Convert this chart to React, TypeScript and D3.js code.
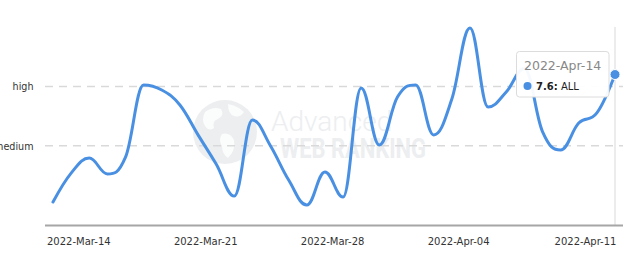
import React from 'react';
import * as d3 from 'd3';

const dates = [
  '2022-03-14', '2022-03-15', '2022-03-16', '2022-03-17', '2022-03-18', '2022-03-19', '2022-03-20', '2022-03-21',
  '2022-03-22', '2022-03-23', '2022-03-24', '2022-03-25', '2022-03-26', '2022-03-27', '2022-03-28', '2022-03-29',
  '2022-03-30', '2022-03-31', '2022-04-01', '2022-04-02', '2022-04-03', '2022-04-04', '2022-04-05', '2022-04-06',
  '2022-04-07', '2022-04-08', '2022-04-09', '2022-04-10', '2022-04-11', '2022-04-12', '2022-04-13', '2022-04-14',
];
const values = [
  1.16, 2.62, 3.38, 2.58, 3.43, 7.07, 6.82, 6.06,
  4.55, 3.08, 1.46, 5.30, 3.99, 2.27, 1.01, 2.68,
  1.41, 6.92, 4.04, 6.46, 7.07, 4.55, 6.36, 9.95,
  5.96, 6.72, 7.9, 4.72, 3.79, 5.15, 5.66, 7.6,
];
const seriesName = 'ALL';
const yTickValues = [4, 7];
const yTickLabels = ['medium', 'high'];
const xTickDates = ['2022-03-14', '2022-03-21', '2022-03-28', '2022-04-04', '2022-04-11'];
const xTickLabels = ['2022-Mar-14', '2022-Mar-21', '2022-Mar-28', '2022-Apr-04', '2022-Apr-11'];
const tooltipDate = '2022-Apr-14';

class HCSpline {
  _context: any;
  _pts: number[][] = [];
  constructor(context: any) { this._context = context; }
  areaStart() {}
  areaEnd() {}
  lineStart() { this._pts = []; }
  point(x: number, y: number) { this._pts.push([+x, +y]); }
  lineEnd() {
    const p = this._pts, n = p.length, ctx = this._context;
    if (!n) return;
    const rc: number[][] = new Array(n);
    ctx.moveTo(p[0][0], p[0][1]);
    for (let i = 1; i < n; i++) {
      const [px, py] = p[i];
      let lcx = px, lcy = py;
      if (i < n - 1) {
        const [lx, ly] = p[i - 1];
        const [nx, ny] = p[i + 1];
        const s = 1.5, den = 2.5;
        lcx = (s * px + lx) / den; lcy = (s * py + ly) / den;
        const rcx = (s * px + nx) / den; let rcy = (s * py + ny) / den;
        if (rcx !== lcx) {
          const c = ((rcy - lcy) * (rcx - px)) / (rcx - lcx) + py - rcy;
          lcy += c; rcy += c;
        }
        if (lcy > ly && lcy > py) { lcy = Math.max(ly, py); rcy = 2 * py - lcy; }
        else if (lcy < ly && lcy < py) { lcy = Math.min(ly, py); rcy = 2 * py - lcy; }
        if (rcy > ny && rcy > py) { rcy = Math.max(ny, py); lcy = 2 * py - rcy; }
        else if (rcy < ny && rcy < py) { rcy = Math.min(ny, py); lcy = 2 * py - rcy; }
        rc[i] = [rcx, rcy];
      }
      const prev = rc[i - 1] || p[i - 1];
      ctx.bezierCurveTo(prev[0], prev[1], lcx, lcy, px, py);
    }
  }
}
const hcCurve: any = (ctx: any) => new HCSpline(ctx);

export default function App() {
  const W = 640, H = 261;
  const parse = d3.utcParse('%Y-%m-%d');
  const dateObjs = dates.map((d) => parse(d) as Date);
  const x = d3.scaleUtc().domain([dateObjs[0], dateObjs[dateObjs.length - 1]]).range([53, 615]);
  const y = d3.scaleLinear().domain([0, 10]).range([225, 27]);
  const line = d3.line<number>()
    .x((_, i) => x(dateObjs[i]))
    .y((d) => y(d))
    .curve(hcCurve);
  const blue = '#4a90e2';
  const lastX = x(dateObjs[dateObjs.length - 1]);
  const lastY = y(values[values.length - 1]);
  const font = 'DejaVu Sans, Verdana, sans-serif';
  const wm = '#eceef0';

  return (
    <svg width={W} height={H} style={{ position: 'absolute', left: 0, top: 0, background: '#fff' }}>
      {/* watermark */}
      <g>
        <circle cx={225} cy={132} r={32} fill={wm} />
        <path d="M205,112 q8,-6 16,-3 q4,6 -3,10 q-6,2 -4,9 q-5,4 -9,-2 q-4,-6 0,-14 z" fill="#fff" opacity={0.8} />
        <path d="M228,104 q10,2 16,8 q-4,6 -10,4 q-6,-2 -6,-12 z" fill="#fff" opacity={0.8} />
        <path d="M222,134 q8,-2 12,6 q2,10 -6,18 q-6,-4 -6,-12 q-4,-6 0,-12 z" fill="#fff" opacity={0.8} />
        <text x={271} y={131} fontFamily="Roboto, sans-serif" fontWeight={300} fontSize={28} fill={wm}>Advanced</text>
        <text x={280} y={158} fontFamily="Roboto, sans-serif" fontWeight={700} fontSize={27} fill={wm}
          textLength={146} lengthAdjust="spacingAndGlyphs">WEB RANKING</text>
      </g>

      {/* grid lines */}
      {yTickValues.map((v, i) => (
        <g key={'gy' + i}>
          <line x1={45} x2={623} y1={y(v)} y2={y(v)} stroke="#d9d9d9" strokeWidth={1.5} strokeDasharray="8,6" />
          <text x={33.5} y={y(v) + 4} textAnchor="end" fontFamily={font} fontSize={9.6} fill="#333">{yTickLabels[i]}</text>
        </g>
      ))}

      {/* crosshair */}
      <line x1={lastX} x2={lastX} y1={27} y2={225} stroke="#e6e6e6" strokeWidth={1.5} />

      {/* x axis */}
      <line x1={45} x2={623} y1={225.5} y2={225.5} stroke="#a6a6a6" strokeWidth={2} />
      {xTickDates.map((d, i) => (
        <text key={'xt' + i} x={x(parse(d) as Date) - 6} y={245} fontFamily={font} fontSize={10} fill="#333">
          {xTickLabels[i]}
        </text>
      ))}

      {/* series */}
      <path d={line(values) || ''} fill="none" stroke={blue} strokeWidth={3} strokeLinejoin="round" strokeLinecap="round" />
      <circle cx={lastX} cy={lastY} r={5} fill={blue} stroke="#fff" strokeWidth={1} />

      {/* tooltip */}
      <g>
        <rect x={516.5} y={51.5} width={92.5} height={45.5} rx={3} fill="#fff" fillOpacity={0.95} stroke="#dcdcdc" strokeWidth={1} />
        <text x={524} y={70} fontFamily={font} fontSize={12.5} fill="#888">{tooltipDate}</text>
        <circle cx={527.5} cy={86} r={4} fill={blue} />
        <text x={536} y={90} fontFamily={font} fontSize={10} fill="#222">
          <tspan fontWeight="bold">{values[values.length - 1].toFixed(1)}:</tspan>
          <tspan> {seriesName}</tspan>
        </text>
      </g>
    </svg>
  );
}
